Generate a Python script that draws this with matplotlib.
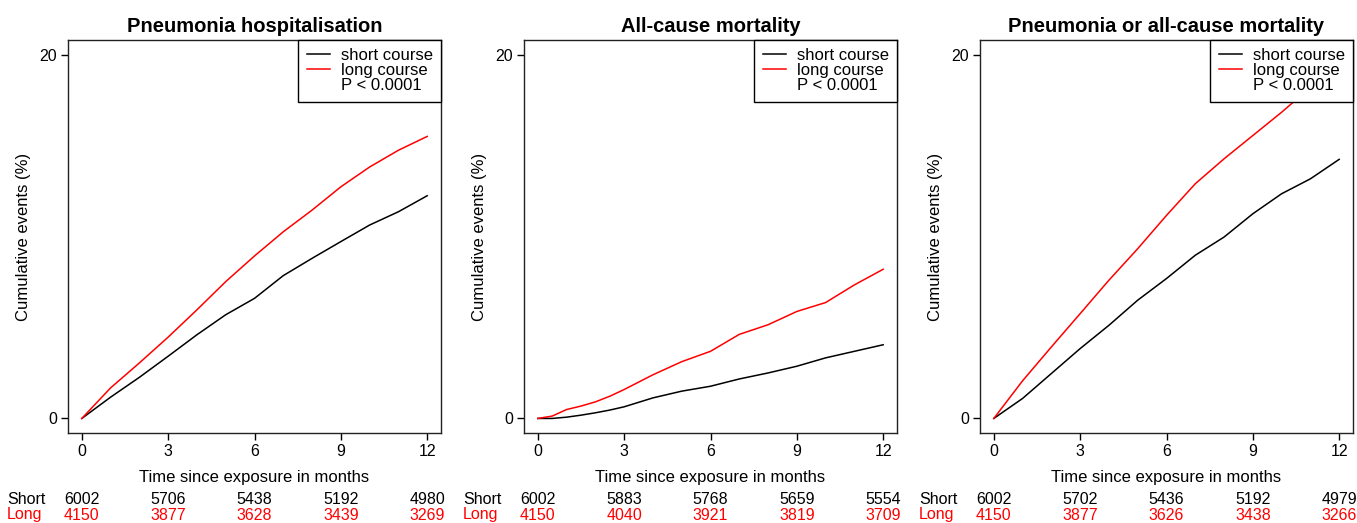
import matplotlib
matplotlib.use("Agg")
import matplotlib.pyplot as plt
from matplotlib.lines import Line2D
import matplotlib.transforms as mtransforms

plt.rcParams['font.family'] = ['Liberation Sans', 'DejaVu Sans']

# time points (months)
months = [0, 1, 2, 3, 4, 5, 6, 7, 8, 9, 10, 11, 12]
months_mort = [0, 0.5, 1, 1.5, 2, 2.5, 3, 4, 5, 6, 7, 8, 9, 10, 11, 12]

titles = ["Pneumonia hospitalisation", "All-cause mortality",
          "Pneumonia or all-cause mortality"]

# cumulative events (%)
pneu_short = [0, 1.17, 2.26, 3.42, 4.6, 5.7, 6.6, 7.85, 8.8, 9.72, 10.63, 11.36, 12.24]
pneu_long = [0, 1.68, 3.05, 4.47, 5.97, 7.52, 8.93, 10.26, 11.45, 12.73, 13.82, 14.74, 15.5]
mort_short = [0, 0, 0.07, 0.18, 0.31, 0.46, 0.64, 1.13, 1.5, 1.77, 2.17, 2.5, 2.87, 3.33, 3.69, 4.05]
mort_long = [0, 0.13, 0.49, 0.68, 0.91, 1.22, 1.59, 2.4, 3.12, 3.69, 4.62, 5.15, 5.88, 6.37, 7.34, 8.2]
comb_short = [0, 1.1, 2.47, 3.84, 5.12, 6.5, 7.69, 8.97, 9.97, 11.25, 12.35, 13.17, 14.24]
comb_long = [0, 2.07, 3.93, 5.76, 7.6, 9.33, 11.16, 12.9, 14.27, 15.55, 16.83, 18.2, 19.5]

# numbers at risk at 0, 3, 6, 9, 12 months
risk_months = [0, 3, 6, 9, 12]
pneu_risk_short = [6002, 5706, 5438, 5192, 4980]
pneu_risk_long = [4150, 3877, 3628, 3439, 3269]
mort_risk_short = [6002, 5883, 5768, 5659, 5554]
mort_risk_long = [4150, 4040, 3921, 3819, 3709]
comb_risk_short = [6002, 5702, 5436, 5192, 4979]
comb_risk_long = [4150, 3877, 3626, 3438, 3266]

panels = [
    (months, pneu_short, pneu_long, pneu_risk_short, pneu_risk_long),
    (months_mort, mort_short, mort_long, mort_risk_short, mort_risk_long),
    (months, comb_short, comb_long, comb_risk_short, comb_risk_long),
]

W, H = 1357, 523
fig = plt.figure(figsize=(W / 100, H / 100), dpi=100)

lefts = [68, 524, 980]
for i, (t, s, l, rs, rl) in enumerate(panels):
    ax = fig.add_axes([lefts[i] / W, 1 - 433 / H, 373 / W, 393 / H])
    ax.plot(t, s, color='black', lw=1.1)
    ax.plot(t, l, color='red', lw=1.1)
    ax.set_xlim(-0.48, 12.48)
    ax.set_ylim(-0.8, 20.8)
    ax.set_xticks(risk_months)
    ax.set_yticks([0, 20])
    ax.tick_params(direction='out', length=5, width=1, labelsize=11.5, pad=3)
    for sp in ax.spines.values():
        sp.set_linewidth(1)
        sp.set_color('#222222')
    ax.set_title(titles[i], fontsize=14.5, fontweight='bold', pad=6)
    ax.set_xlabel("Time since exposure in months", fontsize=12)
    ax.xaxis.label.set_va('center')
    ax.xaxis.set_label_coords(0.5, -0.1145)
    ax.set_ylabel("Cumulative events (%)", fontsize=12)
    ax.yaxis.label.set_va('center')
    ax.yaxis.set_label_coords(-0.12, 0.5)

    handles = [Line2D([], [], color='black', lw=1.1),
               Line2D([], [], color='red', lw=1.1),
               Line2D([], [], color='none')]
    leg = ax.legend(handles, ["short course", "long course", "P < 0.0001"],
                    loc='upper right', borderaxespad=0, fontsize=12,
                    fancybox=False, framealpha=1, edgecolor='black',
                    labelspacing=0.0, handlelength=1.4, handletextpad=0.65,
                    borderpad=0.5)
    leg.get_frame().set_linewidth(1)

    # numbers at risk table
    tr = mtransforms.blended_transform_factory(ax.transData, fig.transFigure)
    tra = mtransforms.blended_transform_factory(ax.transAxes, fig.transFigure)
    y1 = 1 - 500 / H
    y2 = 1 - 515 / H
    ax.text(-0.164, y1, "Short", transform=tra, ha='left', va='center',
            fontsize=11.5, color='black', clip_on=False)
    ax.text(-0.164, y2, "Long", transform=tra, ha='left', va='center',
            fontsize=11.5, color='red', clip_on=False)
    for m, a, b in zip(risk_months, rs, rl):
        ax.text(m, y1, str(a), transform=tr, ha='center', va='center',
                fontsize=11.5, color='black', clip_on=False)
        ax.text(m, y2, str(b), transform=tr, ha='center', va='center',
                fontsize=11.5, color='red', clip_on=False)

fig.savefig("out.png", dpi=100)
